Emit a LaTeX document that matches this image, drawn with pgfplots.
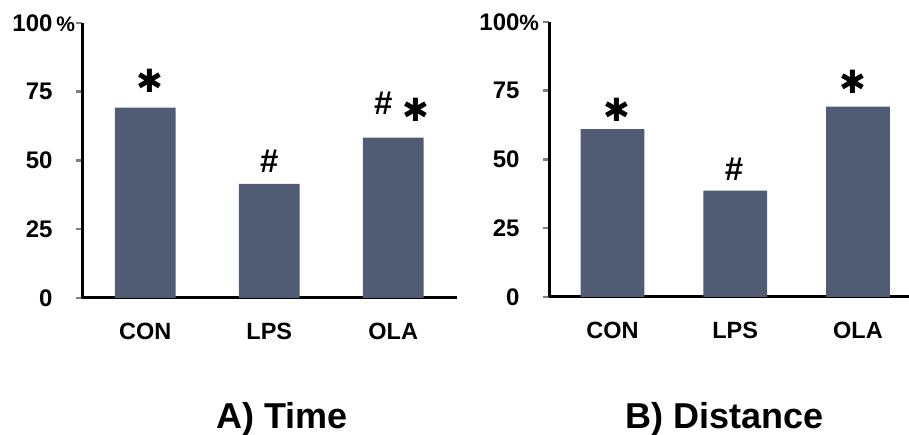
\documentclass[border=0pt]{standalone}
\usepackage{fontspec}
\setmainfont{Liberation Sans}
\newfontfamily\dejavu{DejaVu Sans}
\usepackage{pgfplots}
\pgfplotsset{compat=1.18}
\definecolor{barcol}{RGB}{80,92,115}
\newcommand{\sig}{{\dejavu\bfseries\fontsize{32}{32}\selectfont ✱}}
\newcommand{\hash}{{\fontsize{33}{33}\selectfont\bfseries\#}}
\pgfplotsset{
  panel/.style={
    scale only axis,
    anchor=south west,
    height=275pt,
    ymin=0, ymax=100,
    axis x line*=bottom, axis y line*=left,
    axis line style={line width=3pt},
    xtick={0,1,2}, xticklabels={CON,LPS,OLA},
    ytick={0,25,50,75,100},
    major tick length=6pt,
    tick align=outside,
    x tick style={draw=none},
    y tick style={line width=2.5pt},
    /pgf/number format/assume math mode=true,
    tick label style={font=\fontsize{24}{24}\selectfont\bfseries},
    xticklabel style={font=\fontsize{23.5}{23.5}\selectfont\bfseries, yshift=-16pt},
    yticklabel style={xshift=-20pt},
    clip=false,
  }
}
\begin{document}
\begin{tikzpicture}[x=1pt,y=1pt]
\useasboundingbox (0,0) rectangle (909,435);
% A) Time
\begin{axis}[panel, at={(82pt,137pt)}, width=374.5pt, xmin=-0.51, xmax=2.51,
  yticklabels={0,25,50,75,100\rlap{\,{\fontsize{21}{21}\selectfont\%}}}]
\addplot[ybar, fill=barcol, draw=none, bar width=0.49] coordinates {(0,69.2) (1,41.5) (2,58.3)};
\node at (axis cs:0.04,78.9) {\sig};
\node at (axis cs:1.0,49.6) {\hash};
\node at (axis cs:1.92,70.9) {\hash};
\node at (axis cs:2.18,68.4) {\sig};
\end{axis}
% B) Distance
\begin{axis}[panel, at={(549pt,138pt)}, width=360.5pt, xmin=-0.517, xmax=2.42,
  yticklabels={0,25,50,75,100\rlap{{\fontsize{22}{22}\selectfont\%}}}]
\addplot[ybar, fill=barcol, draw=none, bar width=0.52] coordinates {(0,61.0) (1,38.7) (2,69.2)};
\node at (axis cs:0.04,68.0) {\sig};
\node at (axis cs:0.99,46.5) {\hash};
\node at (axis cs:1.96,78.2) {\sig};
\end{axis}
\node[anchor=base, font=\fontsize{36}{36}\selectfont\bfseries] at (282,6) {A) Time};
\node[anchor=base, font=\fontsize{36}{36}\selectfont\bfseries] at (725,6) {B) Distance};
\end{tikzpicture}
\end{document}
